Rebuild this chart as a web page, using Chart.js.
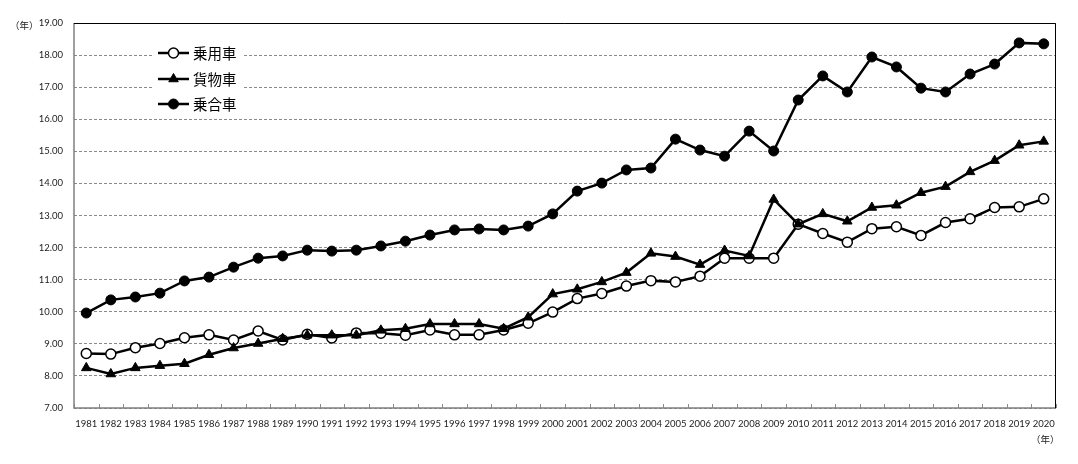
<!DOCTYPE html>
<html>
<head>
<meta charset="utf-8">
<script src="https://cdn.jsdelivr.net/npm/chart.js@4.4.1/dist/chart.umd.min.js"></script>
<style>
  html, body { margin: 0; padding: 0; background: #fff; }
  #wrap { width: 1078px; height: 464px; }
</style>
</head>
<body>
<div id="wrap"><canvas id="chart" width="1078" height="464"></canvas></div>
<script>
// years on the x axis
const years = [];
for (let y = 1981; y <= 2020; y++) years.push(String(y));

// average age of vehicles (years)
const passengerCars = [8.70, 8.68, 8.88, 9.01, 9.19, 9.28, 9.12, 9.40, 9.12, 9.30,
    9.18, 9.34, 9.33, 9.27, 9.43, 9.28, 9.28, 9.43, 9.64, 9.99,
    10.41, 10.57, 10.80, 10.97, 10.93, 11.11, 11.67, 11.67, 11.67, 12.73,
    12.44, 12.17, 12.59, 12.65, 12.38, 12.78, 12.90, 13.25, 13.27, 13.52];
const trucks = [8.25, 8.06, 8.25, 8.32, 8.38, 8.66, 8.87, 9.01, 9.16, 9.27,
    9.27, 9.27, 9.42, 9.47, 9.62, 9.62, 9.62, 9.47, 9.83, 10.55,
    10.70, 10.93, 11.22, 11.82, 11.72, 11.47, 11.91, 11.74, 13.50, 12.73,
    13.05, 12.82, 13.25, 13.32, 13.71, 13.90, 14.36, 14.71, 15.19, 15.31];
const buses = [9.96, 10.37, 10.46, 10.58, 10.96, 11.08, 11.39, 11.67, 11.74, 11.92,
    11.89, 11.92, 12.05, 12.20, 12.39, 12.55, 12.58, 12.55, 12.67, 13.05,
    13.76, 14.01, 14.42, 14.48, 15.38, 15.04, 14.85, 15.63, 15.01, 16.60,
    17.35, 16.85, 17.94, 17.63, 16.97, 16.85, 17.41, 17.72, 18.38, 18.35];

const seriesNames = ['乗用車', '貨物車', '乗合車'];
const yMin = 7, yMax = 19;

const FONT = 'Lato, "Noto Sans CJK JP", sans-serif';
const JP_FONT = '"Noto Sans CJK JP", sans-serif';

// frame, inner tick marks, unit labels and legend
const decorations = {
    id: 'decorations',
    beforeDatasetsDraw(chart) {
        const { ctx, chartArea: a } = chart;
        ctx.save();
        ctx.strokeStyle = '#8c8c8c';
        ctx.lineWidth = 1;
        ctx.beginPath();
        for (let i = 0; i <= years.length; i++) {
            const px = Math.round(a.left + (a.right - a.left) * i / years.length) + 0.5;
            ctx.moveTo(px, a.bottom);
            ctx.lineTo(px, a.bottom - 4);
        }
        ctx.stroke();
        // axes
        ctx.strokeStyle = '#808080';
        ctx.lineWidth = 1.5;
        ctx.beginPath();
        ctx.moveTo(a.left, a.top);
        ctx.lineTo(a.left, a.bottom);
        ctx.lineTo(a.right, a.bottom);
        ctx.stroke();
        ctx.strokeStyle = '#000';
        ctx.lineWidth = 1;
        ctx.beginPath();
        ctx.moveTo(a.left, a.top + 0.5);
        ctx.lineTo(a.right - 0.5, a.top + 0.5);
        ctx.lineTo(a.right - 0.5, a.bottom);
        ctx.stroke();
        ctx.restore();
    },
    afterDatasetsDraw(chart) {
        const { ctx } = chart;
        ctx.save();
        // unit labels
        ctx.fillStyle = '#222';
        ctx.font = '9.5px ' + JP_FONT;
        ctx.textBaseline = 'middle';
        ctx.textAlign = 'left';
        ctx.fillText('（年）', 10, 25);
        ctx.fillText('（年）', 1031, 439);

        // legend
        const lx = 158, ly = [53, 79, 104];
        ctx.fillStyle = '#fff';
        ctx.fillRect(154, 40, 90, 76);
        chart.data.datasets.forEach(ds => {
            const y = ly[seriesNames.indexOf(ds.label)];
            ctx.strokeStyle = '#000';
            ctx.lineWidth = 2.5;
            ctx.beginPath();
            ctx.moveTo(lx, y);
            ctx.lineTo(lx + 31, y);
            ctx.stroke();
            ctx.fillStyle = ds.pointBackgroundColor;
            ctx.strokeStyle = ds.pointBorderColor;
            ctx.lineWidth = ds.pointBorderWidth;
            Chart.helpers.drawPoint(ctx, {
                pointStyle: ds.pointStyle,
                radius: ds.pointRadius,
                borderWidth: ds.pointBorderWidth,
                rotation: 0
            }, lx + 15.5, y);
            ctx.fillStyle = '#000';
            ctx.font = '14.5px ' + JP_FONT;
            ctx.textAlign = 'left';
            ctx.fillText(ds.label, lx + 35, y);
        });
        ctx.restore();
    }
};

new Chart(document.getElementById('chart'), {
    type: 'line',
    data: {
        labels: years,
        datasets: [
            {
                label: seriesNames[1], data: trucks, order: 1,
                borderColor: '#000', borderWidth: 2.5,
                pointStyle: 'triangle', pointRadius: 5.5,
                pointBackgroundColor: '#000', pointBorderColor: '#000', pointBorderWidth: 1
            },
            {
                label: seriesNames[0], data: passengerCars, order: 2,
                borderColor: '#000', borderWidth: 2.5,
                pointStyle: 'circle', pointRadius: 5,
                pointBackgroundColor: '#fff', pointBorderColor: '#000', pointBorderWidth: 1.5
            },
            {
                label: seriesNames[2], data: buses, order: 0,
                borderColor: '#000', borderWidth: 2.5,
                pointStyle: 'circle', pointRadius: 5,
                pointBackgroundColor: '#000', pointBorderColor: '#000', pointBorderWidth: 1
            }
        ]
    },
    options: {
        responsive: false,
        animation: false,
        events: [],
        layout: { padding: { left: 0, right: 22, top: 23, bottom: 0 } },
        plugins: { legend: { display: false }, tooltip: { enabled: false } },
        elements: { line: { tension: 0 } },
        scales: {
            x: {
                offset: true,
                border: { display: false },
                grid: { display: false },
                ticks: {
                    color: '#222', font: { family: FONT, size: 9.5 },
                    padding: 2, maxRotation: 0, autoSkip: false
                },
                afterFit(scale) { scale.height = 56; }
            },
            y: {
                min: yMin, max: yMax,
                border: { display: false, dash: [3, 2] },
                grid: { color: '#8a8a8a', lineWidth: 1, drawTicks: false },
                ticks: {
                    stepSize: 1, padding: 11,
                    color: '#222', font: { family: FONT, size: 9.5 },
                    callback: v => Number(v).toFixed(2)
                },
                afterFit(scale) { scale.width = 74; }
            }
        }
    },
    plugins: [decorations]
});
</script>
</body>
</html>
